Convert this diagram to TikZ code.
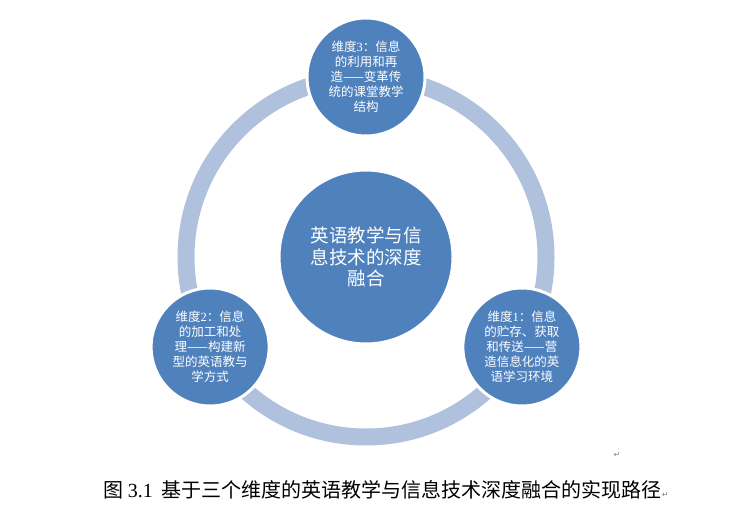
\documentclass[tikz,border=0pt]{standalone}
\usepackage{fontspec}
\setmainfont{Liberation Serif}
\newfontfamily\cjk{Noto Sans CJK SC}
\newfontfamily\arrowfont{DejaVu Sans}
\usetikzlibrary{positioning}
\definecolor{hubblue}{RGB}{79,129,189}
\definecolor{ringblue}{RGB}{176,193,222}
\tikzset{
	x = 1pt, y = 1pt,
	ring/.style = {
		draw = ringblue,
		line width = 17pt
	},
	hub/.style = {
		circle,
		fill = hubblue,
		draw = white,
		line width = 1pt,
		minimum size = 172pt,
		inner sep = 0pt,
		align = center,
		text = white,
		font = \cjk\fontsize{18.5}{21.5}\selectfont
	},
	dim/.style = {
		hub,
		line width = 3pt,
		minimum size = 118pt,
		font = \cjk\fontsize{12.5}{15}\selectfont
	},
	caption/.style = {
		inner sep = 0pt,
		font = \cjk\fontsize{20}{24}\selectfont
	},
	retmark/.style = {
		inner sep = 0pt,
		text = gray,
		font = \arrowfont\fontsize{8}{8}\selectfont
	}
}

\begin{document}
\begin{tikzpicture}
		\useasboundingbox (0,0) rectangle (738,512);
		\coordinate (C) at (366,255);

		\draw[ring] (C) circle (180);

		\node[hub] (H) at (C) {英语教学与信\\息技术的深度\\融合};

		\node[dim] (D3) at ([shift={(90:180)}]C)  {维度{\rmfamily 3}：信息\\的利用和再\\造——变革传\\统的课堂教学\\结构};
		\node[dim] (D2) at ([shift={(210:180)}]C) {维度{\rmfamily 2}：信息\\的加工和处\\理——构建新\\型的英语教与\\学方式};
		\node[dim] (D1) at ([shift={(330:180)}]C) {维度{\rmfamily 1}：信息\\的贮存、获取\\和传送——营\\造信息化的英\\语学习环境};

		\node[retmark] (M1) at (617,57) {↵};
		\node[caption] (cap) at (386,22) {图 {\rmfamily 3.1}\ \ 基于三个维度的英语教学与信息技术深度融合的实现路径{\arrowfont\fontsize{8}{8}\selectfont\color{gray}↵}};

	\end{tikzpicture}
\end{document}
